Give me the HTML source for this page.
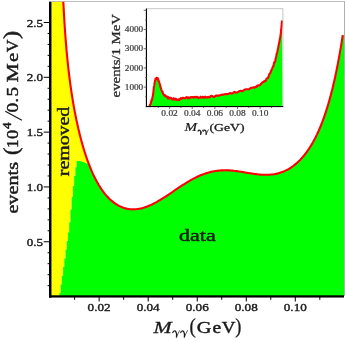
<!DOCTYPE html>
<html><head><meta charset="utf-8">
<style>
html,body{margin:0;padding:0;background:#fff;}
body{width:345px;height:341px;overflow:hidden;}
svg{display:block;will-change:transform;}
text{font-family:"Liberation Serif",serif;fill:#1a1a1a;}
.tl{font-size:11.3px;stroke:#1a1a1a;stroke-width:0.4px;}
.il{font-size:8px;fill:#3a3a3a;stroke:#3a3a3a;stroke-width:0.2px;}
.b{stroke:#1a1a1a;stroke-width:0.45px;}
</style></head><body>
<svg width="345" height="341" viewBox="0 0 345 341">
<rect width="345" height="341" fill="#fff"/>
<!-- main fills -->
<path d="M51,0 L63.10,-2.59 C63.14,-1.73 63.27,0.88 63.35,2.55 C63.43,4.21 63.52,5.83 63.60,7.41 C63.68,8.99 63.77,10.52 63.85,12.02 C63.93,13.52 64.02,14.98 64.10,16.40 C64.18,17.82 64.27,19.21 64.35,20.57 C64.43,21.92 64.52,23.24 64.60,24.54 C64.68,25.83 64.77,27.09 64.85,28.32 C64.93,29.56 65.02,30.77 65.10,31.95 C65.18,33.13 65.27,34.28 65.35,35.42 C65.43,36.55 65.52,37.65 65.60,38.74 C65.68,39.83 65.77,40.89 65.85,41.93 C65.93,42.98 66.02,44.00 66.10,45.00 C66.18,46.01 66.27,46.99 66.35,47.96 C66.43,48.92 66.52,49.87 66.60,50.80 C66.68,51.74 66.77,52.65 66.85,53.55 C66.93,54.45 67.02,55.34 67.10,56.21 C67.18,57.08 67.27,57.93 67.35,58.77 C67.43,59.62 67.52,60.44 67.60,61.26 C67.68,62.08 67.77,62.88 67.85,63.67 C67.93,64.46 68.02,65.24 68.10,66.01 C68.18,66.78 68.27,67.53 68.35,68.28 C68.43,69.02 68.52,69.76 68.60,70.48 C68.68,71.21 68.77,71.92 68.85,72.63 C68.93,73.34 69.02,74.03 69.10,74.72 C69.18,75.41 69.27,76.08 69.35,76.75 C69.43,77.42 69.52,78.09 69.60,78.74 C69.68,79.39 69.77,80.04 69.85,80.68 C69.93,81.31 70.02,81.94 70.10,82.57 C70.18,83.19 70.27,83.81 70.35,84.41 C70.43,85.02 70.52,85.63 70.60,86.22 C70.68,86.82 70.77,87.41 70.85,87.99 C70.93,88.57 71.02,89.15 71.10,89.72 C71.18,90.29 71.27,90.85 71.35,91.41 C71.43,91.97 71.52,92.52 71.60,93.07 C71.68,93.62 71.77,94.16 71.85,94.70 C71.93,95.24 72.02,95.77 72.10,96.29 C72.18,96.82 72.27,97.34 72.35,97.86 C72.43,98.38 72.52,98.89 72.60,99.40 C72.68,99.90 72.77,100.41 72.85,100.90 C72.93,101.40 73.02,101.90 73.10,102.39 C73.18,102.88 73.27,103.36 73.35,103.84 C73.43,104.32 73.52,104.80 73.60,105.28 C73.68,105.75 73.77,106.22 73.85,106.68 C73.93,107.15 74.02,107.61 74.10,108.07 C74.18,108.53 74.27,108.98 74.35,109.43 C74.43,109.88 74.52,110.33 74.60,110.77 C74.68,111.22 74.77,111.65 74.85,112.09 C74.93,112.53 75.02,112.96 75.10,113.39 C75.18,113.82 75.27,114.25 75.35,114.67 C75.43,115.10 75.52,115.52 75.60,115.93 C75.68,116.35 75.77,116.76 75.85,117.18 C75.93,117.59 76.02,117.99 76.10,118.40 C76.18,118.81 76.27,119.21 76.35,119.61 C76.43,120.01 76.52,120.40 76.60,120.80 C76.68,121.19 76.77,121.58 76.85,121.97 C76.93,122.36 77.02,122.74 77.10,123.13 C77.18,123.51 77.27,123.89 77.35,124.27 C77.43,124.65 77.52,125.02 77.60,125.40 C77.68,125.77 77.77,126.14 77.85,126.51 C77.93,126.87 78.02,127.24 78.10,127.60 C78.18,127.97 78.27,128.33 78.35,128.68 C78.43,129.04 78.52,129.40 78.60,129.75 C78.68,130.11 78.77,130.46 78.85,130.81 C78.93,131.16 79.02,131.50 79.10,131.85 C79.18,132.19 79.27,132.53 79.35,132.87 C79.43,133.22 79.52,133.55 79.60,133.89 C79.68,134.23 79.77,134.56 79.85,134.89 C79.93,135.22 80.02,135.55 80.10,135.88 C80.18,136.21 80.27,136.53 80.35,136.86 C80.43,137.18 80.52,137.50 80.60,137.82 C80.68,138.14 80.77,138.46 80.85,138.78 C80.93,139.09 81.02,139.41 81.10,139.72 C81.18,140.03 81.27,140.34 81.35,140.65 C81.43,140.96 81.52,141.26 81.60,141.57 C81.68,141.87 81.77,142.17 81.85,142.48 C81.93,142.78 82.02,143.08 82.10,143.37 C82.18,143.67 82.27,143.97 82.35,144.26 C82.43,144.55 82.52,144.85 82.60,145.14 C82.68,145.43 82.77,145.71 82.85,146.00 C82.93,146.29 83.02,146.57 83.10,146.86 C83.18,147.14 83.27,147.42 83.35,147.70 C83.43,147.98 83.52,148.26 83.60,148.54 C83.68,148.82 83.77,149.09 83.85,149.37 C83.93,149.64 84.02,149.91 84.10,150.18 C84.18,150.45 84.27,150.72 84.35,150.99 C84.43,151.26 84.52,151.52 84.60,151.79 C84.68,152.05 84.77,152.31 84.85,152.58 C84.93,152.84 85.02,153.10 85.10,153.36 C85.18,153.61 85.27,153.87 85.35,154.13 C85.43,154.38 85.52,154.64 85.60,154.89 C85.68,155.14 85.77,155.39 85.85,155.64 C85.93,155.89 86.02,156.14 86.10,156.39 C86.18,156.63 86.27,156.88 86.35,157.12 C86.43,157.37 86.52,157.61 86.60,157.85 C86.68,158.09 86.77,158.33 86.85,158.57 C86.93,158.81 87.02,159.05 87.10,159.28 C87.18,159.52 87.27,159.75 87.35,159.99 C87.43,160.22 87.52,160.45 87.60,160.68 C87.68,160.91 87.77,161.14 87.85,161.37 C87.93,161.60 88.02,161.82 88.10,162.05 C88.18,162.28 88.27,162.50 88.35,162.72 C88.43,162.95 88.52,163.17 88.60,163.39 C88.68,163.61 88.77,163.83 88.85,164.04 C88.93,164.26 89.06,164.59 89.10,164.70 L88.60,164.00 L88.60,164.00 L87.60,163.60 L85.00,163.00 L84.30,162.00 L82.00,161.90 L81.70,161.20 L77.30,161.10 L77.30,161.20 L76.60,161.20 L76.60,167.36 L75.38,167.36 L75.38,175.95 L74.15,175.95 L74.15,186.05 L72.93,186.05 L72.93,197.08 L71.70,197.08 L71.70,209.51 L70.47,209.51 L70.47,222.22 L69.25,222.22 L69.25,232.41 L68.02,232.41 L68.02,241.08 L66.80,241.08 L66.80,249.75 L65.57,249.75 L65.57,258.42 L64.34,258.42 L64.34,267.09 L63.12,267.09 L63.12,275.76 L61.89,275.76 L61.89,284.43 L60.67,284.43 L60.67,293.10 L59.44,293.10 L59.44,296.00 L51,296 Z" fill="#ffff00"/>
<path d="M59.44,296.00 L59.44,293.10 L60.67,293.10 L60.67,284.43 L61.89,284.43 L61.89,275.76 L63.12,275.76 L63.12,267.09 L64.34,267.09 L64.34,258.42 L65.57,258.42 L65.57,249.75 L66.80,249.75 L66.80,241.08 L68.02,241.08 L68.02,232.41 L69.25,232.41 L69.25,222.22 L70.47,222.22 L70.47,209.51 L71.70,209.51 L71.70,197.08 L72.93,197.08 L72.93,186.05 L74.15,186.05 L74.15,175.95 L75.38,175.95 L75.38,167.36 L76.60,167.36 L76.60,161.20 L77.30,161.20 L77.30,161.10 L81.70,161.20 L82.00,161.90 L84.30,162.00 L85.00,163.00 L87.60,163.60 L88.60,164.00 L89.10,164.70 C89.14,164.80 89.27,165.12 89.35,165.34 C89.43,165.55 89.52,165.76 89.60,165.97 C89.68,166.18 89.77,166.39 89.85,166.60 C89.93,166.81 90.02,167.02 90.10,167.22 C90.18,167.43 90.27,167.63 90.35,167.84 C90.43,168.04 90.52,168.24 90.60,168.45 C90.68,168.65 90.77,168.85 90.85,169.05 C90.93,169.25 91.02,169.44 91.10,169.64 C91.18,169.84 91.27,170.03 91.35,170.23 C91.43,170.42 91.52,170.62 91.60,170.81 C91.68,171.00 91.77,171.19 91.85,171.38 C91.93,171.57 92.02,171.76 92.10,171.95 C92.18,172.14 92.27,172.33 92.35,172.51 C92.43,172.70 92.52,172.88 92.60,173.07 C92.68,173.25 92.77,173.44 92.85,173.62 C92.93,173.80 93.02,173.98 93.10,174.16 C93.18,174.34 93.27,174.52 93.35,174.70 C93.43,174.87 93.52,175.05 93.60,175.23 C93.68,175.40 93.77,175.58 93.85,175.75 C93.93,175.93 94.02,176.10 94.10,176.27 C94.18,176.44 94.27,176.61 94.35,176.78 C94.43,176.95 94.52,177.12 94.60,177.29 C94.68,177.46 94.77,177.63 94.85,177.79 C94.93,177.96 95.02,178.13 95.10,178.29 C95.18,178.45 95.27,178.62 95.35,178.78 C95.43,178.94 95.52,179.10 95.60,179.26 C95.68,179.43 95.77,179.58 95.85,179.74 C95.93,179.90 96.02,180.06 96.10,180.22 C96.18,180.37 96.27,180.53 96.35,180.69 C96.43,180.84 96.52,181.00 96.60,181.15 C96.68,181.30 96.77,181.46 96.85,181.61 C96.93,181.76 97.02,181.91 97.10,182.06 C97.18,182.21 97.27,182.36 97.35,182.51 C97.43,182.66 97.52,182.80 97.60,182.95 C97.68,183.10 97.77,183.24 97.85,183.39 C97.93,183.53 98.02,183.68 98.10,183.82 C98.18,183.96 98.27,184.10 98.35,184.25 C98.43,184.39 98.52,184.53 98.60,184.67 C98.68,184.81 98.77,184.95 98.85,185.09 C98.93,185.22 99.02,185.36 99.10,185.50 C99.18,185.64 99.27,185.77 99.35,185.91 C99.43,186.04 99.52,186.18 99.60,186.31 C99.68,186.44 99.78,186.60 99.85,186.71 C99.92,186.81 99.72,186.53 100.00,186.94 C100.28,187.36 101.00,188.49 101.50,189.22 C102.00,189.95 102.50,190.66 103.00,191.34 C103.50,192.02 104.00,192.68 104.50,193.31 C105.00,193.94 105.50,194.55 106.00,195.14 C106.50,195.72 107.00,196.29 107.50,196.83 C108.00,197.37 108.50,197.89 109.00,198.39 C109.50,198.89 110.00,199.37 110.50,199.83 C111.00,200.29 111.50,200.73 112.00,201.15 C112.50,201.57 113.00,201.97 113.50,202.36 C114.00,202.74 114.50,203.11 115.00,203.45 C115.50,203.80 116.00,204.13 116.50,204.45 C117.00,204.76 117.50,205.06 118.00,205.34 C118.50,205.62 119.00,205.88 119.50,206.13 C120.00,206.38 120.50,206.61 121.00,206.83 C121.50,207.05 122.00,207.25 122.50,207.44 C123.00,207.62 123.50,207.80 124.00,207.96 C124.50,208.11 125.00,208.26 125.50,208.39 C126.00,208.52 126.50,208.63 127.00,208.74 C127.50,208.84 128.00,208.93 128.50,209.01 C129.00,209.08 129.50,209.15 130.00,209.20 C130.50,209.25 131.00,209.28 131.50,209.31 C132.00,209.34 132.50,209.35 133.00,209.35 C133.50,209.35 134.00,209.34 134.50,209.32 C135.00,209.30 135.50,209.26 136.00,209.22 C136.50,209.17 137.00,209.12 137.50,209.05 C138.00,208.98 138.50,208.90 139.00,208.82 C139.50,208.73 140.00,208.63 140.50,208.52 C141.00,208.41 141.50,208.29 142.00,208.16 C142.50,208.03 143.00,207.90 143.50,207.75 C144.00,207.60 144.50,207.44 145.00,207.28 C145.50,207.11 146.00,206.94 146.50,206.75 C147.00,206.57 147.50,206.38 148.00,206.18 C148.50,205.98 149.00,205.77 149.50,205.56 C150.00,205.34 150.50,205.12 151.00,204.89 C151.50,204.66 152.00,204.42 152.50,204.18 C153.00,203.93 153.50,203.68 154.00,203.43 C154.50,203.17 155.00,202.90 155.50,202.64 C156.00,202.37 156.50,202.09 157.00,201.81 C157.50,201.53 158.00,201.24 158.50,200.95 C159.00,200.66 159.50,200.37 160.00,200.07 C160.50,199.77 161.00,199.46 161.50,199.15 C162.00,198.85 162.50,198.53 163.00,198.22 C163.50,197.90 164.00,197.58 164.50,197.26 C165.00,196.94 165.50,196.61 166.00,196.28 C166.50,195.96 167.00,195.63 167.50,195.29 C168.00,194.96 168.50,194.63 169.00,194.29 C169.50,193.96 170.00,193.62 170.50,193.28 C171.00,192.94 171.50,192.61 172.00,192.27 C172.50,191.93 173.00,191.59 173.50,191.25 C174.00,190.91 174.50,190.57 175.00,190.23 C175.50,189.89 176.00,189.55 176.50,189.21 C177.00,188.87 177.50,188.53 178.00,188.20 C178.50,187.86 179.00,187.53 179.50,187.19 C180.00,186.86 180.50,186.53 181.00,186.20 C181.50,185.87 182.00,185.55 182.50,185.22 C183.00,184.90 183.50,184.58 184.00,184.26 C184.50,183.94 185.00,183.63 185.50,183.31 C186.00,183.00 186.50,182.69 187.00,182.39 C187.50,182.09 188.00,181.78 188.50,181.49 C189.00,181.19 189.50,180.90 190.00,180.61 C190.50,180.33 191.00,180.04 191.50,179.76 C192.00,179.49 192.50,179.21 193.00,178.94 C193.50,178.68 194.00,178.41 194.50,178.16 C195.00,177.90 195.50,177.65 196.00,177.40 C196.50,177.15 197.00,176.91 197.50,176.68 C198.00,176.44 198.50,176.21 199.00,175.99 C199.50,175.77 200.00,175.55 200.50,175.34 C201.00,175.13 201.50,174.93 202.00,174.73 C202.50,174.53 203.00,174.34 203.50,174.15 C204.00,173.97 204.50,173.79 205.00,173.62 C205.50,173.45 206.00,173.28 206.50,173.13 C207.00,172.97 207.50,172.82 208.00,172.67 C208.50,172.53 209.00,172.39 209.50,172.26 C210.00,172.13 210.50,172.00 211.00,171.89 C211.50,171.77 212.00,171.66 212.50,171.55 C213.00,171.45 213.50,171.35 214.00,171.26 C214.50,171.17 215.00,171.09 215.50,171.01 C216.00,170.93 216.50,170.86 217.00,170.80 C217.50,170.73 218.00,170.68 218.50,170.62 C219.00,170.57 219.50,170.53 220.00,170.49 C220.50,170.45 221.00,170.42 221.50,170.39 C222.00,170.36 222.50,170.34 223.00,170.33 C223.50,170.31 224.00,170.30 224.50,170.30 C225.00,170.30 225.50,170.30 226.00,170.31 C226.50,170.31 227.00,170.32 227.50,170.34 C228.00,170.36 228.50,170.38 229.00,170.41 C229.50,170.43 230.00,170.47 230.50,170.50 C231.00,170.54 231.50,170.58 232.00,170.62 C232.50,170.67 233.00,170.71 233.50,170.77 C234.00,170.82 234.50,170.87 235.00,170.93 C235.50,170.99 236.00,171.05 236.50,171.12 C237.00,171.18 237.50,171.25 238.00,171.32 C238.50,171.39 239.00,171.46 239.50,171.54 C240.00,171.61 240.50,171.69 241.00,171.77 C241.50,171.84 242.00,171.92 242.50,172.00 C243.00,172.08 243.50,172.17 244.00,172.25 C244.50,172.33 245.00,172.41 245.50,172.50 C246.00,172.58 246.50,172.66 247.00,172.75 C247.50,172.83 248.00,172.91 248.50,173.00 C249.00,173.08 249.50,173.16 250.00,173.24 C250.50,173.32 251.00,173.40 251.50,173.48 C252.00,173.55 252.50,173.63 253.00,173.70 C253.50,173.78 254.00,173.85 254.50,173.92 C255.00,173.99 255.50,174.05 256.00,174.11 C256.50,174.18 257.00,174.24 257.50,174.29 C258.00,174.35 258.50,174.40 259.00,174.45 C259.50,174.50 260.00,174.54 260.50,174.58 C261.00,174.62 261.50,174.66 262.00,174.69 C262.50,174.72 263.00,174.74 263.50,174.76 C264.00,174.78 264.50,174.79 265.00,174.80 C265.50,174.81 266.00,174.81 266.50,174.81 C267.00,174.80 267.50,174.79 268.00,174.77 C268.50,174.76 269.00,174.73 269.50,174.70 C270.00,174.67 270.50,174.63 271.00,174.58 C271.50,174.53 272.00,174.48 272.50,174.42 C273.00,174.35 273.50,174.28 274.00,174.20 C274.50,174.12 275.00,174.04 275.50,173.94 C276.00,173.84 276.50,173.73 277.00,173.62 C277.50,173.50 278.00,173.38 278.50,173.24 C279.00,173.11 279.50,172.96 280.00,172.80 C280.50,172.65 281.00,172.48 281.50,172.31 C282.00,172.13 282.50,171.94 283.00,171.74 C283.50,171.55 284.00,171.34 284.50,171.12 C285.00,170.89 285.50,170.66 286.00,170.42 C286.50,170.17 287.00,169.91 287.50,169.65 C288.00,169.38 288.50,169.09 289.00,168.80 C289.50,168.50 290.00,168.20 290.50,167.88 C291.00,167.55 291.50,167.22 292.00,166.87 C292.50,166.52 293.00,166.16 293.50,165.78 C294.00,165.41 294.50,165.02 295.00,164.61 C295.50,164.20 296.00,163.78 296.50,163.34 C297.00,162.91 297.50,162.45 298.00,161.98 C298.50,161.51 299.17,160.85 299.50,160.53 C299.83,160.20 299.88,160.14 300.00,160.02 C300.12,159.89 300.17,159.84 300.25,159.76 C300.33,159.67 300.42,159.58 300.50,159.50 C300.58,159.41 300.67,159.32 300.75,159.23 C300.83,159.14 300.92,159.05 301.00,158.96 C301.08,158.87 301.17,158.78 301.25,158.69 C301.33,158.60 301.42,158.51 301.50,158.42 C301.58,158.33 301.67,158.24 301.75,158.14 C301.83,158.05 301.92,157.96 302.00,157.86 C302.08,157.77 302.17,157.68 302.25,157.58 C302.33,157.49 302.42,157.39 302.50,157.30 C302.58,157.20 302.67,157.10 302.75,157.01 C302.83,156.91 302.92,156.81 303.00,156.72 C303.08,156.62 303.17,156.52 303.25,156.42 C303.33,156.32 303.42,156.22 303.50,156.12 C303.58,156.02 303.67,155.92 303.75,155.82 C303.83,155.72 303.92,155.62 304.00,155.52 C304.08,155.41 304.17,155.31 304.25,155.21 C304.33,155.10 304.42,155.00 304.50,154.90 C304.58,154.79 304.67,154.69 304.75,154.58 C304.83,154.48 304.92,154.37 305.00,154.26 C305.08,154.16 305.17,154.05 305.25,153.94 C305.33,153.83 305.42,153.73 305.50,153.62 C305.58,153.51 305.67,153.40 305.75,153.29 C305.83,153.18 305.92,153.07 306.00,152.96 C306.08,152.85 306.17,152.73 306.25,152.62 C306.33,152.51 306.42,152.40 306.50,152.28 C306.58,152.17 306.67,152.05 306.75,151.94 C306.83,151.82 306.92,151.71 307.00,151.59 C307.08,151.48 307.17,151.36 307.25,151.24 C307.33,151.13 307.42,151.01 307.50,150.89 C307.58,150.77 307.67,150.65 307.75,150.53 C307.83,150.41 307.92,150.29 308.00,150.17 C308.08,150.05 308.17,149.93 308.25,149.81 C308.33,149.69 308.42,149.56 308.50,149.44 C308.58,149.32 308.67,149.19 308.75,149.07 C308.83,148.94 308.92,148.82 309.00,148.69 C309.08,148.57 309.17,148.44 309.25,148.31 C309.33,148.18 309.42,148.06 309.50,147.93 C309.58,147.80 309.67,147.67 309.75,147.54 C309.83,147.41 309.92,147.28 310.00,147.15 C310.08,147.02 310.17,146.88 310.25,146.75 C310.33,146.62 310.42,146.49 310.50,146.35 C310.58,146.22 310.67,146.08 310.75,145.95 C310.83,145.81 310.92,145.68 311.00,145.54 C311.08,145.40 311.17,145.27 311.25,145.13 C311.33,144.99 311.42,144.85 311.50,144.71 C311.58,144.57 311.67,144.43 311.75,144.29 C311.83,144.15 311.92,144.01 312.00,143.86 C312.08,143.72 312.17,143.58 312.25,143.43 C312.33,143.29 312.42,143.14 312.50,143.00 C312.58,142.85 312.67,142.71 312.75,142.56 C312.83,142.41 312.92,142.27 313.00,142.12 C313.08,141.97 313.17,141.82 313.25,141.67 C313.33,141.52 313.42,141.37 313.50,141.22 C313.58,141.07 313.67,140.91 313.75,140.76 C313.83,140.61 313.92,140.45 314.00,140.30 C314.08,140.14 314.17,139.99 314.25,139.83 C314.33,139.67 314.42,139.52 314.50,139.36 C314.58,139.20 314.67,139.04 314.75,138.88 C314.83,138.72 314.92,138.56 315.00,138.40 C315.08,138.24 315.17,138.08 315.25,137.92 C315.33,137.75 315.42,137.59 315.50,137.42 C315.58,137.26 315.67,137.09 315.75,136.93 C315.83,136.76 315.92,136.60 316.00,136.43 C316.08,136.26 316.17,136.09 316.25,135.92 C316.33,135.75 316.42,135.58 316.50,135.41 C316.58,135.24 316.67,135.06 316.75,134.89 C316.83,134.72 316.92,134.54 317.00,134.37 C317.08,134.19 317.17,134.02 317.25,133.84 C317.33,133.66 317.42,133.49 317.50,133.31 C317.58,133.13 317.67,132.95 317.75,132.77 C317.83,132.59 317.92,132.41 318.00,132.22 C318.08,132.04 318.17,131.86 318.25,131.67 C318.33,131.49 318.42,131.30 318.50,131.12 C318.58,130.93 318.67,130.74 318.75,130.56 C318.83,130.37 318.92,130.18 319.00,129.99 C319.08,129.80 319.17,129.61 319.25,129.42 C319.33,129.22 319.42,129.03 319.50,128.84 C319.58,128.64 319.67,128.45 319.75,128.25 C319.83,128.05 319.92,127.86 320.00,127.66 C320.08,127.46 320.17,127.26 320.25,127.06 C320.33,126.86 320.42,126.66 320.50,126.46 C320.58,126.25 320.67,126.05 320.75,125.85 C320.83,125.64 320.92,125.44 321.00,125.23 C321.08,125.02 321.17,124.82 321.25,124.61 C321.33,124.40 321.42,124.19 321.50,123.98 C321.58,123.77 321.67,123.55 321.75,123.34 C321.83,123.13 321.92,122.91 322.00,122.70 C322.08,122.48 322.17,122.26 322.25,122.05 C322.33,121.83 322.42,121.61 322.50,121.39 C322.58,121.17 322.67,120.95 322.75,120.73 C322.83,120.50 322.92,120.28 323.00,120.06 C323.08,119.83 323.17,119.60 323.25,119.38 C323.33,119.15 323.42,118.92 323.50,118.69 C323.58,118.46 323.67,118.23 323.75,118.00 C323.83,117.77 323.92,117.53 324.00,117.30 C324.08,117.06 324.17,116.83 324.25,116.59 C324.33,116.35 324.42,116.12 324.50,115.88 C324.58,115.64 324.67,115.40 324.75,115.15 C324.83,114.91 324.92,114.67 325.00,114.42 C325.08,114.18 325.17,113.93 325.25,113.69 C325.33,113.44 325.42,113.19 325.50,112.94 C325.58,112.69 325.67,112.44 325.75,112.18 C325.83,111.93 325.92,111.68 326.00,111.42 C326.08,111.17 326.17,110.91 326.25,110.65 C326.33,110.39 326.42,110.13 326.50,109.87 C326.58,109.61 326.67,109.35 326.75,109.09 C326.83,108.82 326.92,108.56 327.00,108.29 C327.08,108.02 327.17,107.75 327.25,107.49 C327.33,107.22 327.42,106.94 327.50,106.67 C327.58,106.40 327.67,106.13 327.75,105.85 C327.83,105.57 327.92,105.30 328.00,105.02 C328.08,104.74 328.17,104.46 328.25,104.18 C328.33,103.90 328.42,103.61 328.50,103.33 C328.58,103.04 328.67,102.76 328.75,102.47 C328.83,102.18 328.92,101.89 329.00,101.60 C329.08,101.31 329.17,101.02 329.25,100.72 C329.33,100.43 329.42,100.13 329.50,99.84 C329.58,99.54 329.67,99.24 329.75,98.94 C329.83,98.64 329.92,98.34 330.00,98.03 C330.08,97.73 330.17,97.42 330.25,97.12 C330.33,96.81 330.42,96.50 330.50,96.19 C330.58,95.88 330.67,95.56 330.75,95.25 C330.83,94.94 330.92,94.62 331.00,94.30 C331.08,93.98 331.17,93.67 331.25,93.34 C331.33,93.02 331.42,92.70 331.50,92.37 C331.58,92.05 331.67,91.72 331.75,91.39 C331.83,91.07 331.92,90.74 332.00,90.40 C332.08,90.07 332.17,89.74 332.25,89.40 C332.33,89.07 332.42,88.73 332.50,88.39 C332.58,88.05 332.67,87.71 332.75,87.36 C332.83,87.02 332.92,86.67 333.00,86.33 C333.08,85.98 333.17,85.63 333.25,85.28 C333.33,84.93 333.42,84.58 333.50,84.22 C333.58,83.86 333.67,83.51 333.75,83.15 C333.83,82.79 333.92,82.43 334.00,82.06 C334.08,81.70 334.17,81.34 334.25,80.97 C334.33,80.60 334.42,80.23 334.50,79.86 C334.58,79.49 334.67,79.12 334.75,78.74 C334.83,78.36 334.92,77.99 335.00,77.61 C335.08,77.23 335.17,76.84 335.25,76.46 C335.33,76.08 335.42,75.69 335.50,75.30 C335.58,74.91 335.67,74.52 335.75,74.13 C335.83,73.73 335.92,73.34 336.00,72.94 C336.08,72.54 336.17,72.14 336.25,71.74 C336.33,71.34 336.42,70.93 336.50,70.53 C336.58,70.12 336.67,69.71 336.75,69.30 C336.83,68.89 336.92,68.48 337.00,68.06 C337.08,67.64 337.17,67.22 337.25,66.80 C337.33,66.38 337.42,65.96 337.50,65.53 C337.58,65.11 337.67,64.68 337.75,64.25 C337.83,63.82 337.92,63.38 338.00,62.95 C338.08,62.51 338.17,62.08 338.25,61.63 C338.33,61.19 338.42,60.75 338.50,60.31 C338.58,59.86 338.67,59.41 338.75,58.96 C338.83,58.51 338.92,58.06 339.00,57.60 C339.08,57.14 339.17,56.68 339.25,56.22 C339.33,55.76 339.42,55.30 339.50,54.83 C339.58,54.36 339.67,53.89 339.75,53.42 C339.83,52.95 339.92,52.47 340.00,52.00 C340.08,51.52 340.17,51.04 340.25,50.56 C340.33,50.07 340.42,49.59 340.50,49.10 C340.58,48.61 340.67,48.12 340.75,47.62 C340.83,47.13 340.92,46.63 341.00,46.13 C341.08,45.63 341.17,45.13 341.25,44.62 C341.33,44.11 341.42,43.60 341.50,43.09 C341.58,42.58 341.67,42.06 341.75,41.55 C341.83,41.03 341.92,40.51 342.00,39.98 C342.08,39.46 342.17,38.93 342.25,38.40 C342.33,37.87 342.42,37.34 342.50,36.80 C342.58,36.26 342.71,35.45 342.75,35.18 L344.4,35.5 L344.4,296 Z" fill="#00ff00"/>
<path d="M63.10,-2.59 C63.14,-1.73 63.27,0.88 63.35,2.55 C63.43,4.21 63.52,5.83 63.60,7.41 C63.68,8.99 63.77,10.52 63.85,12.02 C63.93,13.52 64.02,14.98 64.10,16.40 C64.18,17.82 64.27,19.21 64.35,20.57 C64.43,21.92 64.52,23.24 64.60,24.54 C64.68,25.83 64.77,27.09 64.85,28.32 C64.93,29.56 65.02,30.77 65.10,31.95 C65.18,33.13 65.27,34.28 65.35,35.42 C65.43,36.55 65.52,37.65 65.60,38.74 C65.68,39.83 65.77,40.89 65.85,41.93 C65.93,42.98 66.02,44.00 66.10,45.00 C66.18,46.01 66.27,46.99 66.35,47.96 C66.43,48.92 66.52,49.87 66.60,50.80 C66.68,51.74 66.77,52.65 66.85,53.55 C66.93,54.45 67.02,55.34 67.10,56.21 C67.18,57.08 67.27,57.93 67.35,58.77 C67.43,59.62 67.52,60.44 67.60,61.26 C67.68,62.08 67.77,62.88 67.85,63.67 C67.93,64.46 68.02,65.24 68.10,66.01 C68.18,66.78 68.27,67.53 68.35,68.28 C68.43,69.02 68.52,69.76 68.60,70.48 C68.68,71.21 68.77,71.92 68.85,72.63 C68.93,73.34 69.02,74.03 69.10,74.72 C69.18,75.41 69.27,76.08 69.35,76.75 C69.43,77.42 69.52,78.09 69.60,78.74 C69.68,79.39 69.77,80.04 69.85,80.68 C69.93,81.31 70.02,81.94 70.10,82.57 C70.18,83.19 70.27,83.81 70.35,84.41 C70.43,85.02 70.52,85.63 70.60,86.22 C70.68,86.82 70.77,87.41 70.85,87.99 C70.93,88.57 71.02,89.15 71.10,89.72 C71.18,90.29 71.27,90.85 71.35,91.41 C71.43,91.97 71.52,92.52 71.60,93.07 C71.68,93.62 71.77,94.16 71.85,94.70 C71.93,95.24 72.02,95.77 72.10,96.29 C72.18,96.82 72.27,97.34 72.35,97.86 C72.43,98.38 72.52,98.89 72.60,99.40 C72.68,99.90 72.77,100.41 72.85,100.90 C72.93,101.40 73.02,101.90 73.10,102.39 C73.18,102.88 73.27,103.36 73.35,103.84 C73.43,104.32 73.52,104.80 73.60,105.28 C73.68,105.75 73.77,106.22 73.85,106.68 C73.93,107.15 74.02,107.61 74.10,108.07 C74.18,108.53 74.27,108.98 74.35,109.43 C74.43,109.88 74.52,110.33 74.60,110.77 C74.68,111.22 74.77,111.65 74.85,112.09 C74.93,112.53 75.02,112.96 75.10,113.39 C75.18,113.82 75.27,114.25 75.35,114.67 C75.43,115.10 75.52,115.52 75.60,115.93 C75.68,116.35 75.77,116.76 75.85,117.18 C75.93,117.59 76.02,117.99 76.10,118.40 C76.18,118.81 76.27,119.21 76.35,119.61 C76.43,120.01 76.52,120.40 76.60,120.80 C76.68,121.19 76.77,121.58 76.85,121.97 C76.93,122.36 77.02,122.74 77.10,123.13 C77.18,123.51 77.27,123.89 77.35,124.27 C77.43,124.65 77.52,125.02 77.60,125.40 C77.68,125.77 77.77,126.14 77.85,126.51 C77.93,126.87 78.02,127.24 78.10,127.60 C78.18,127.97 78.27,128.33 78.35,128.68 C78.43,129.04 78.52,129.40 78.60,129.75 C78.68,130.11 78.77,130.46 78.85,130.81 C78.93,131.16 79.02,131.50 79.10,131.85 C79.18,132.19 79.27,132.53 79.35,132.87 C79.43,133.22 79.52,133.55 79.60,133.89 C79.68,134.23 79.77,134.56 79.85,134.89 C79.93,135.22 80.02,135.55 80.10,135.88 C80.18,136.21 80.27,136.53 80.35,136.86 C80.43,137.18 80.52,137.50 80.60,137.82 C80.68,138.14 80.77,138.46 80.85,138.78 C80.93,139.09 81.02,139.41 81.10,139.72 C81.18,140.03 81.27,140.34 81.35,140.65 C81.43,140.96 81.52,141.26 81.60,141.57 C81.68,141.87 81.77,142.17 81.85,142.48 C81.93,142.78 82.02,143.08 82.10,143.37 C82.18,143.67 82.27,143.97 82.35,144.26 C82.43,144.55 82.52,144.85 82.60,145.14 C82.68,145.43 82.77,145.71 82.85,146.00 C82.93,146.29 83.02,146.57 83.10,146.86 C83.18,147.14 83.27,147.42 83.35,147.70 C83.43,147.98 83.52,148.26 83.60,148.54 C83.68,148.82 83.77,149.09 83.85,149.37 C83.93,149.64 84.02,149.91 84.10,150.18 C84.18,150.45 84.27,150.72 84.35,150.99 C84.43,151.26 84.52,151.52 84.60,151.79 C84.68,152.05 84.77,152.31 84.85,152.58 C84.93,152.84 85.02,153.10 85.10,153.36 C85.18,153.61 85.27,153.87 85.35,154.13 C85.43,154.38 85.52,154.64 85.60,154.89 C85.68,155.14 85.77,155.39 85.85,155.64 C85.93,155.89 86.02,156.14 86.10,156.39 C86.18,156.63 86.27,156.88 86.35,157.12 C86.43,157.37 86.52,157.61 86.60,157.85 C86.68,158.09 86.77,158.33 86.85,158.57 C86.93,158.81 87.02,159.05 87.10,159.28 C87.18,159.52 87.27,159.75 87.35,159.99 C87.43,160.22 87.52,160.45 87.60,160.68 C87.68,160.91 87.77,161.14 87.85,161.37 C87.93,161.60 88.02,161.82 88.10,162.05 C88.18,162.28 88.27,162.50 88.35,162.72 C88.43,162.95 88.52,163.17 88.60,163.39 C88.68,163.61 88.77,163.83 88.85,164.04 C88.93,164.26 89.02,164.48 89.10,164.70 C89.18,164.91 89.27,165.12 89.35,165.34 C89.43,165.55 89.52,165.76 89.60,165.97 C89.68,166.18 89.77,166.39 89.85,166.60 C89.93,166.81 90.02,167.02 90.10,167.22 C90.18,167.43 90.27,167.63 90.35,167.84 C90.43,168.04 90.52,168.24 90.60,168.45 C90.68,168.65 90.77,168.85 90.85,169.05 C90.93,169.25 91.02,169.44 91.10,169.64 C91.18,169.84 91.27,170.03 91.35,170.23 C91.43,170.42 91.52,170.62 91.60,170.81 C91.68,171.00 91.77,171.19 91.85,171.38 C91.93,171.57 92.02,171.76 92.10,171.95 C92.18,172.14 92.27,172.33 92.35,172.51 C92.43,172.70 92.52,172.88 92.60,173.07 C92.68,173.25 92.77,173.44 92.85,173.62 C92.93,173.80 93.02,173.98 93.10,174.16 C93.18,174.34 93.27,174.52 93.35,174.70 C93.43,174.87 93.52,175.05 93.60,175.23 C93.68,175.40 93.77,175.58 93.85,175.75 C93.93,175.93 94.02,176.10 94.10,176.27 C94.18,176.44 94.27,176.61 94.35,176.78 C94.43,176.95 94.52,177.12 94.60,177.29 C94.68,177.46 94.77,177.63 94.85,177.79 C94.93,177.96 95.02,178.13 95.10,178.29 C95.18,178.45 95.27,178.62 95.35,178.78 C95.43,178.94 95.52,179.10 95.60,179.26 C95.68,179.43 95.77,179.58 95.85,179.74 C95.93,179.90 96.02,180.06 96.10,180.22 C96.18,180.37 96.27,180.53 96.35,180.69 C96.43,180.84 96.52,181.00 96.60,181.15 C96.68,181.30 96.77,181.46 96.85,181.61 C96.93,181.76 97.02,181.91 97.10,182.06 C97.18,182.21 97.27,182.36 97.35,182.51 C97.43,182.66 97.52,182.80 97.60,182.95 C97.68,183.10 97.77,183.24 97.85,183.39 C97.93,183.53 98.02,183.68 98.10,183.82 C98.18,183.96 98.27,184.10 98.35,184.25 C98.43,184.39 98.52,184.53 98.60,184.67 C98.68,184.81 98.77,184.95 98.85,185.09 C98.93,185.22 99.02,185.36 99.10,185.50 C99.18,185.64 99.27,185.77 99.35,185.91 C99.43,186.04 99.52,186.18 99.60,186.31 C99.68,186.44 99.78,186.60 99.85,186.71 C99.92,186.81 99.72,186.53 100.00,186.94 C100.28,187.36 101.00,188.49 101.50,189.22 C102.00,189.95 102.50,190.66 103.00,191.34 C103.50,192.02 104.00,192.68 104.50,193.31 C105.00,193.94 105.50,194.55 106.00,195.14 C106.50,195.72 107.00,196.29 107.50,196.83 C108.00,197.37 108.50,197.89 109.00,198.39 C109.50,198.89 110.00,199.37 110.50,199.83 C111.00,200.29 111.50,200.73 112.00,201.15 C112.50,201.57 113.00,201.97 113.50,202.36 C114.00,202.74 114.50,203.11 115.00,203.45 C115.50,203.80 116.00,204.13 116.50,204.45 C117.00,204.76 117.50,205.06 118.00,205.34 C118.50,205.62 119.00,205.88 119.50,206.13 C120.00,206.38 120.50,206.61 121.00,206.83 C121.50,207.05 122.00,207.25 122.50,207.44 C123.00,207.62 123.50,207.80 124.00,207.96 C124.50,208.11 125.00,208.26 125.50,208.39 C126.00,208.52 126.50,208.63 127.00,208.74 C127.50,208.84 128.00,208.93 128.50,209.01 C129.00,209.08 129.50,209.15 130.00,209.20 C130.50,209.25 131.00,209.28 131.50,209.31 C132.00,209.34 132.50,209.35 133.00,209.35 C133.50,209.35 134.00,209.34 134.50,209.32 C135.00,209.30 135.50,209.26 136.00,209.22 C136.50,209.17 137.00,209.12 137.50,209.05 C138.00,208.98 138.50,208.90 139.00,208.82 C139.50,208.73 140.00,208.63 140.50,208.52 C141.00,208.41 141.50,208.29 142.00,208.16 C142.50,208.03 143.00,207.90 143.50,207.75 C144.00,207.60 144.50,207.44 145.00,207.28 C145.50,207.11 146.00,206.94 146.50,206.75 C147.00,206.57 147.50,206.38 148.00,206.18 C148.50,205.98 149.00,205.77 149.50,205.56 C150.00,205.34 150.50,205.12 151.00,204.89 C151.50,204.66 152.00,204.42 152.50,204.18 C153.00,203.93 153.50,203.68 154.00,203.43 C154.50,203.17 155.00,202.90 155.50,202.64 C156.00,202.37 156.50,202.09 157.00,201.81 C157.50,201.53 158.00,201.24 158.50,200.95 C159.00,200.66 159.50,200.37 160.00,200.07 C160.50,199.77 161.00,199.46 161.50,199.15 C162.00,198.85 162.50,198.53 163.00,198.22 C163.50,197.90 164.00,197.58 164.50,197.26 C165.00,196.94 165.50,196.61 166.00,196.28 C166.50,195.96 167.00,195.63 167.50,195.29 C168.00,194.96 168.50,194.63 169.00,194.29 C169.50,193.96 170.00,193.62 170.50,193.28 C171.00,192.94 171.50,192.61 172.00,192.27 C172.50,191.93 173.00,191.59 173.50,191.25 C174.00,190.91 174.50,190.57 175.00,190.23 C175.50,189.89 176.00,189.55 176.50,189.21 C177.00,188.87 177.50,188.53 178.00,188.20 C178.50,187.86 179.00,187.53 179.50,187.19 C180.00,186.86 180.50,186.53 181.00,186.20 C181.50,185.87 182.00,185.55 182.50,185.22 C183.00,184.90 183.50,184.58 184.00,184.26 C184.50,183.94 185.00,183.63 185.50,183.31 C186.00,183.00 186.50,182.69 187.00,182.39 C187.50,182.09 188.00,181.78 188.50,181.49 C189.00,181.19 189.50,180.90 190.00,180.61 C190.50,180.33 191.00,180.04 191.50,179.76 C192.00,179.49 192.50,179.21 193.00,178.94 C193.50,178.68 194.00,178.41 194.50,178.16 C195.00,177.90 195.50,177.65 196.00,177.40 C196.50,177.15 197.00,176.91 197.50,176.68 C198.00,176.44 198.50,176.21 199.00,175.99 C199.50,175.77 200.00,175.55 200.50,175.34 C201.00,175.13 201.50,174.93 202.00,174.73 C202.50,174.53 203.00,174.34 203.50,174.15 C204.00,173.97 204.50,173.79 205.00,173.62 C205.50,173.45 206.00,173.28 206.50,173.13 C207.00,172.97 207.50,172.82 208.00,172.67 C208.50,172.53 209.00,172.39 209.50,172.26 C210.00,172.13 210.50,172.00 211.00,171.89 C211.50,171.77 212.00,171.66 212.50,171.55 C213.00,171.45 213.50,171.35 214.00,171.26 C214.50,171.17 215.00,171.09 215.50,171.01 C216.00,170.93 216.50,170.86 217.00,170.80 C217.50,170.73 218.00,170.68 218.50,170.62 C219.00,170.57 219.50,170.53 220.00,170.49 C220.50,170.45 221.00,170.42 221.50,170.39 C222.00,170.36 222.50,170.34 223.00,170.33 C223.50,170.31 224.00,170.30 224.50,170.30 C225.00,170.30 225.50,170.30 226.00,170.31 C226.50,170.31 227.00,170.32 227.50,170.34 C228.00,170.36 228.50,170.38 229.00,170.41 C229.50,170.43 230.00,170.47 230.50,170.50 C231.00,170.54 231.50,170.58 232.00,170.62 C232.50,170.67 233.00,170.71 233.50,170.77 C234.00,170.82 234.50,170.87 235.00,170.93 C235.50,170.99 236.00,171.05 236.50,171.12 C237.00,171.18 237.50,171.25 238.00,171.32 C238.50,171.39 239.00,171.46 239.50,171.54 C240.00,171.61 240.50,171.69 241.00,171.77 C241.50,171.84 242.00,171.92 242.50,172.00 C243.00,172.08 243.50,172.17 244.00,172.25 C244.50,172.33 245.00,172.41 245.50,172.50 C246.00,172.58 246.50,172.66 247.00,172.75 C247.50,172.83 248.00,172.91 248.50,173.00 C249.00,173.08 249.50,173.16 250.00,173.24 C250.50,173.32 251.00,173.40 251.50,173.48 C252.00,173.55 252.50,173.63 253.00,173.70 C253.50,173.78 254.00,173.85 254.50,173.92 C255.00,173.99 255.50,174.05 256.00,174.11 C256.50,174.18 257.00,174.24 257.50,174.29 C258.00,174.35 258.50,174.40 259.00,174.45 C259.50,174.50 260.00,174.54 260.50,174.58 C261.00,174.62 261.50,174.66 262.00,174.69 C262.50,174.72 263.00,174.74 263.50,174.76 C264.00,174.78 264.50,174.79 265.00,174.80 C265.50,174.81 266.00,174.81 266.50,174.81 C267.00,174.80 267.50,174.79 268.00,174.77 C268.50,174.76 269.00,174.73 269.50,174.70 C270.00,174.67 270.50,174.63 271.00,174.58 C271.50,174.53 272.00,174.48 272.50,174.42 C273.00,174.35 273.50,174.28 274.00,174.20 C274.50,174.12 275.00,174.04 275.50,173.94 C276.00,173.84 276.50,173.73 277.00,173.62 C277.50,173.50 278.00,173.38 278.50,173.24 C279.00,173.11 279.50,172.96 280.00,172.80 C280.50,172.65 281.00,172.48 281.50,172.31 C282.00,172.13 282.50,171.94 283.00,171.74 C283.50,171.55 284.00,171.34 284.50,171.12 C285.00,170.89 285.50,170.66 286.00,170.42 C286.50,170.17 287.00,169.91 287.50,169.65 C288.00,169.38 288.50,169.09 289.00,168.80 C289.50,168.50 290.00,168.20 290.50,167.88 C291.00,167.55 291.50,167.22 292.00,166.87 C292.50,166.52 293.00,166.16 293.50,165.78 C294.00,165.41 294.50,165.02 295.00,164.61 C295.50,164.20 296.00,163.78 296.50,163.34 C297.00,162.91 297.50,162.45 298.00,161.98 C298.50,161.51 299.17,160.85 299.50,160.53 C299.83,160.20 299.88,160.14 300.00,160.02 C300.12,159.89 300.17,159.84 300.25,159.76 C300.33,159.67 300.42,159.58 300.50,159.50 C300.58,159.41 300.67,159.32 300.75,159.23 C300.83,159.14 300.92,159.05 301.00,158.96 C301.08,158.87 301.17,158.78 301.25,158.69 C301.33,158.60 301.42,158.51 301.50,158.42 C301.58,158.33 301.67,158.24 301.75,158.14 C301.83,158.05 301.92,157.96 302.00,157.86 C302.08,157.77 302.17,157.68 302.25,157.58 C302.33,157.49 302.42,157.39 302.50,157.30 C302.58,157.20 302.67,157.10 302.75,157.01 C302.83,156.91 302.92,156.81 303.00,156.72 C303.08,156.62 303.17,156.52 303.25,156.42 C303.33,156.32 303.42,156.22 303.50,156.12 C303.58,156.02 303.67,155.92 303.75,155.82 C303.83,155.72 303.92,155.62 304.00,155.52 C304.08,155.41 304.17,155.31 304.25,155.21 C304.33,155.10 304.42,155.00 304.50,154.90 C304.58,154.79 304.67,154.69 304.75,154.58 C304.83,154.48 304.92,154.37 305.00,154.26 C305.08,154.16 305.17,154.05 305.25,153.94 C305.33,153.83 305.42,153.73 305.50,153.62 C305.58,153.51 305.67,153.40 305.75,153.29 C305.83,153.18 305.92,153.07 306.00,152.96 C306.08,152.85 306.17,152.73 306.25,152.62 C306.33,152.51 306.42,152.40 306.50,152.28 C306.58,152.17 306.67,152.05 306.75,151.94 C306.83,151.82 306.92,151.71 307.00,151.59 C307.08,151.48 307.17,151.36 307.25,151.24 C307.33,151.13 307.42,151.01 307.50,150.89 C307.58,150.77 307.67,150.65 307.75,150.53 C307.83,150.41 307.92,150.29 308.00,150.17 C308.08,150.05 308.17,149.93 308.25,149.81 C308.33,149.69 308.42,149.56 308.50,149.44 C308.58,149.32 308.67,149.19 308.75,149.07 C308.83,148.94 308.92,148.82 309.00,148.69 C309.08,148.57 309.17,148.44 309.25,148.31 C309.33,148.18 309.42,148.06 309.50,147.93 C309.58,147.80 309.67,147.67 309.75,147.54 C309.83,147.41 309.92,147.28 310.00,147.15 C310.08,147.02 310.17,146.88 310.25,146.75 C310.33,146.62 310.42,146.49 310.50,146.35 C310.58,146.22 310.67,146.08 310.75,145.95 C310.83,145.81 310.92,145.68 311.00,145.54 C311.08,145.40 311.17,145.27 311.25,145.13 C311.33,144.99 311.42,144.85 311.50,144.71 C311.58,144.57 311.67,144.43 311.75,144.29 C311.83,144.15 311.92,144.01 312.00,143.86 C312.08,143.72 312.17,143.58 312.25,143.43 C312.33,143.29 312.42,143.14 312.50,143.00 C312.58,142.85 312.67,142.71 312.75,142.56 C312.83,142.41 312.92,142.27 313.00,142.12 C313.08,141.97 313.17,141.82 313.25,141.67 C313.33,141.52 313.42,141.37 313.50,141.22 C313.58,141.07 313.67,140.91 313.75,140.76 C313.83,140.61 313.92,140.45 314.00,140.30 C314.08,140.14 314.17,139.99 314.25,139.83 C314.33,139.67 314.42,139.52 314.50,139.36 C314.58,139.20 314.67,139.04 314.75,138.88 C314.83,138.72 314.92,138.56 315.00,138.40 C315.08,138.24 315.17,138.08 315.25,137.92 C315.33,137.75 315.42,137.59 315.50,137.42 C315.58,137.26 315.67,137.09 315.75,136.93 C315.83,136.76 315.92,136.60 316.00,136.43 C316.08,136.26 316.17,136.09 316.25,135.92 C316.33,135.75 316.42,135.58 316.50,135.41 C316.58,135.24 316.67,135.06 316.75,134.89 C316.83,134.72 316.92,134.54 317.00,134.37 C317.08,134.19 317.17,134.02 317.25,133.84 C317.33,133.66 317.42,133.49 317.50,133.31 C317.58,133.13 317.67,132.95 317.75,132.77 C317.83,132.59 317.92,132.41 318.00,132.22 C318.08,132.04 318.17,131.86 318.25,131.67 C318.33,131.49 318.42,131.30 318.50,131.12 C318.58,130.93 318.67,130.74 318.75,130.56 C318.83,130.37 318.92,130.18 319.00,129.99 C319.08,129.80 319.17,129.61 319.25,129.42 C319.33,129.22 319.42,129.03 319.50,128.84 C319.58,128.64 319.67,128.45 319.75,128.25 C319.83,128.05 319.92,127.86 320.00,127.66 C320.08,127.46 320.17,127.26 320.25,127.06 C320.33,126.86 320.42,126.66 320.50,126.46 C320.58,126.25 320.67,126.05 320.75,125.85 C320.83,125.64 320.92,125.44 321.00,125.23 C321.08,125.02 321.17,124.82 321.25,124.61 C321.33,124.40 321.42,124.19 321.50,123.98 C321.58,123.77 321.67,123.55 321.75,123.34 C321.83,123.13 321.92,122.91 322.00,122.70 C322.08,122.48 322.17,122.26 322.25,122.05 C322.33,121.83 322.42,121.61 322.50,121.39 C322.58,121.17 322.67,120.95 322.75,120.73 C322.83,120.50 322.92,120.28 323.00,120.06 C323.08,119.83 323.17,119.60 323.25,119.38 C323.33,119.15 323.42,118.92 323.50,118.69 C323.58,118.46 323.67,118.23 323.75,118.00 C323.83,117.77 323.92,117.53 324.00,117.30 C324.08,117.06 324.17,116.83 324.25,116.59 C324.33,116.35 324.42,116.12 324.50,115.88 C324.58,115.64 324.67,115.40 324.75,115.15 C324.83,114.91 324.92,114.67 325.00,114.42 C325.08,114.18 325.17,113.93 325.25,113.69 C325.33,113.44 325.42,113.19 325.50,112.94 C325.58,112.69 325.67,112.44 325.75,112.18 C325.83,111.93 325.92,111.68 326.00,111.42 C326.08,111.17 326.17,110.91 326.25,110.65 C326.33,110.39 326.42,110.13 326.50,109.87 C326.58,109.61 326.67,109.35 326.75,109.09 C326.83,108.82 326.92,108.56 327.00,108.29 C327.08,108.02 327.17,107.75 327.25,107.49 C327.33,107.22 327.42,106.94 327.50,106.67 C327.58,106.40 327.67,106.13 327.75,105.85 C327.83,105.57 327.92,105.30 328.00,105.02 C328.08,104.74 328.17,104.46 328.25,104.18 C328.33,103.90 328.42,103.61 328.50,103.33 C328.58,103.04 328.67,102.76 328.75,102.47 C328.83,102.18 328.92,101.89 329.00,101.60 C329.08,101.31 329.17,101.02 329.25,100.72 C329.33,100.43 329.42,100.13 329.50,99.84 C329.58,99.54 329.67,99.24 329.75,98.94 C329.83,98.64 329.92,98.34 330.00,98.03 C330.08,97.73 330.17,97.42 330.25,97.12 C330.33,96.81 330.42,96.50 330.50,96.19 C330.58,95.88 330.67,95.56 330.75,95.25 C330.83,94.94 330.92,94.62 331.00,94.30 C331.08,93.98 331.17,93.67 331.25,93.34 C331.33,93.02 331.42,92.70 331.50,92.37 C331.58,92.05 331.67,91.72 331.75,91.39 C331.83,91.07 331.92,90.74 332.00,90.40 C332.08,90.07 332.17,89.74 332.25,89.40 C332.33,89.07 332.42,88.73 332.50,88.39 C332.58,88.05 332.67,87.71 332.75,87.36 C332.83,87.02 332.92,86.67 333.00,86.33 C333.08,85.98 333.17,85.63 333.25,85.28 C333.33,84.93 333.42,84.58 333.50,84.22 C333.58,83.86 333.67,83.51 333.75,83.15 C333.83,82.79 333.92,82.43 334.00,82.06 C334.08,81.70 334.17,81.34 334.25,80.97 C334.33,80.60 334.42,80.23 334.50,79.86 C334.58,79.49 334.67,79.12 334.75,78.74 C334.83,78.36 334.92,77.99 335.00,77.61 C335.08,77.23 335.17,76.84 335.25,76.46 C335.33,76.08 335.42,75.69 335.50,75.30 C335.58,74.91 335.67,74.52 335.75,74.13 C335.83,73.73 335.92,73.34 336.00,72.94 C336.08,72.54 336.17,72.14 336.25,71.74 C336.33,71.34 336.42,70.93 336.50,70.53 C336.58,70.12 336.67,69.71 336.75,69.30 C336.83,68.89 336.92,68.48 337.00,68.06 C337.08,67.64 337.17,67.22 337.25,66.80 C337.33,66.38 337.42,65.96 337.50,65.53 C337.58,65.11 337.67,64.68 337.75,64.25 C337.83,63.82 337.92,63.38 338.00,62.95 C338.08,62.51 338.17,62.08 338.25,61.63 C338.33,61.19 338.42,60.75 338.50,60.31 C338.58,59.86 338.67,59.41 338.75,58.96 C338.83,58.51 338.92,58.06 339.00,57.60 C339.08,57.14 339.17,56.68 339.25,56.22 C339.33,55.76 339.42,55.30 339.50,54.83 C339.58,54.36 339.67,53.89 339.75,53.42 C339.83,52.95 339.92,52.47 340.00,52.00 C340.08,51.52 340.17,51.04 340.25,50.56 C340.33,50.07 340.42,49.59 340.50,49.10 C340.58,48.61 340.67,48.12 340.75,47.62 C340.83,47.13 340.92,46.63 341.00,46.13 C341.08,45.63 341.17,45.13 341.25,44.62 C341.33,44.11 341.42,43.60 341.50,43.09 C341.58,42.58 341.67,42.06 341.75,41.55 C341.83,41.03 341.92,40.51 342.00,39.98 C342.08,39.46 342.17,38.93 342.25,38.40 C342.33,37.87 342.42,37.34 342.50,36.80 C342.58,36.26 342.71,35.45 342.75,35.18" fill="none" stroke="#ff0000" stroke-width="2.1" stroke-linejoin="round"/>
<!-- frame -->

<line x1="344.5" y1="1" x2="344.5" y2="296" stroke="#b0b0b0" stroke-width="1"/>
<!-- axes -->
<rect x="49" y="0" width="2.45" height="297.55" fill="#000"/>
<rect x="49" y="295.3" width="295" height="2.25" fill="#000"/>
<rect x="0" y="0" width="345" height="1.3" fill="#fff"/>
<line x1="49" y1="1.5" x2="345" y2="1.5" stroke="#b0b0b0" stroke-width="0.8"/>
<g stroke="#000" stroke-width="1">
<line x1="74.62" y1="296" x2="74.62" y2="299.8"/>
<line x1="99.14" y1="296" x2="99.14" y2="301.5"/>
<line x1="123.66" y1="296" x2="123.66" y2="299.8"/>
<line x1="148.18" y1="296" x2="148.18" y2="301.5"/>
<line x1="172.70" y1="296" x2="172.70" y2="299.8"/>
<line x1="197.22" y1="296" x2="197.22" y2="301.5"/>
<line x1="221.74" y1="296" x2="221.74" y2="299.8"/>
<line x1="246.26" y1="296" x2="246.26" y2="301.5"/>
<line x1="270.78" y1="296" x2="270.78" y2="299.8"/>
<line x1="295.30" y1="296" x2="295.30" y2="301.5"/>
<line x1="319.82" y1="296" x2="319.82" y2="299.8"/>
<line x1="47.6" y1="285.64" x2="51" y2="285.64"/>
<line x1="47.6" y1="274.67" x2="51" y2="274.67"/>
<line x1="47.6" y1="263.71" x2="51" y2="263.71"/>
<line x1="47.6" y1="252.74" x2="51" y2="252.74"/>
<line x1="43.7" y1="241.78" x2="51" y2="241.78"/>
<line x1="47.6" y1="230.81" x2="51" y2="230.81"/>
<line x1="47.6" y1="219.85" x2="51" y2="219.85"/>
<line x1="47.6" y1="208.88" x2="51" y2="208.88"/>
<line x1="47.6" y1="197.92" x2="51" y2="197.92"/>
<line x1="43.7" y1="186.95" x2="51" y2="186.95"/>
<line x1="47.6" y1="175.99" x2="51" y2="175.99"/>
<line x1="47.6" y1="165.02" x2="51" y2="165.02"/>
<line x1="47.6" y1="154.06" x2="51" y2="154.06"/>
<line x1="47.6" y1="143.09" x2="51" y2="143.09"/>
<line x1="43.7" y1="132.13" x2="51" y2="132.13"/>
<line x1="47.6" y1="121.16" x2="51" y2="121.16"/>
<line x1="47.6" y1="110.20" x2="51" y2="110.20"/>
<line x1="47.6" y1="99.23" x2="51" y2="99.23"/>
<line x1="47.6" y1="88.27" x2="51" y2="88.27"/>
<line x1="43.7" y1="77.30" x2="51" y2="77.30"/>
<line x1="47.6" y1="66.34" x2="51" y2="66.34"/>
<line x1="47.6" y1="55.37" x2="51" y2="55.37"/>
<line x1="47.6" y1="44.41" x2="51" y2="44.41"/>
<line x1="47.6" y1="33.44" x2="51" y2="33.44"/>
<line x1="43.7" y1="22.48" x2="51" y2="22.48"/>
</g>
<text x="99.14" y="310.8" text-anchor="middle" textLength="23" lengthAdjust="spacingAndGlyphs" class="tl">0.02</text>
<text x="148.18" y="310.8" text-anchor="middle" textLength="23" lengthAdjust="spacingAndGlyphs" class="tl">0.04</text>
<text x="197.22" y="310.8" text-anchor="middle" textLength="23" lengthAdjust="spacingAndGlyphs" class="tl">0.06</text>
<text x="246.26" y="310.8" text-anchor="middle" textLength="23" lengthAdjust="spacingAndGlyphs" class="tl">0.08</text>
<text x="295.30" y="310.8" text-anchor="middle" textLength="23" lengthAdjust="spacingAndGlyphs" class="tl">0.10</text>
<text x="43" y="245.88" text-anchor="end" textLength="16.3" lengthAdjust="spacingAndGlyphs" class="tl">0.5</text>
<text x="43" y="191.05" text-anchor="end" textLength="16.3" lengthAdjust="spacingAndGlyphs" class="tl">1.0</text>
<text x="43" y="136.23" text-anchor="end" textLength="16.3" lengthAdjust="spacingAndGlyphs" class="tl">1.5</text>
<text x="43" y="81.40" text-anchor="end" textLength="16.3" lengthAdjust="spacingAndGlyphs" class="tl">2.0</text>
<text x="43" y="26.58" text-anchor="end" textLength="16.3" lengthAdjust="spacingAndGlyphs" class="tl">2.5</text>
<!-- inset -->
<rect x="147" y="8.5" width="136" height="98" fill="#fff"/>
<path d="M149.50,106.50 L149.73,105.94 L150.05,104.84 L150.43,104.27 L150.84,103.22 L151.27,101.09 L151.69,99.75 L152.08,99.87 L152.40,97.59 L152.67,96.17 L152.92,95.93 L153.14,93.41 L153.35,92.37 L153.54,90.12 L153.73,88.82 L153.91,86.56 L154.10,86.13 L154.28,85.45 L154.46,83.89 L154.62,83.39 L154.78,82.50 L154.94,80.77 L155.09,81.32 L155.25,80.47 L155.40,79.46 L155.55,78.55 L155.70,79.58 L155.84,78.61 L155.97,78.78 L156.12,78.87 L156.27,78.46 L156.43,78.74 L156.60,77.82 L156.79,78.53 L156.98,78.00 L157.19,78.96 L157.40,79.05 L157.62,77.97 L157.84,78.34 L158.07,78.86 L158.30,80.59 L158.53,80.24 L158.76,81.22 L159.00,81.40 L159.24,82.54 L159.49,83.17 L159.75,83.96 L160.02,85.21 L160.30,86.04 L160.59,87.43 L160.89,87.95 L161.20,89.29 L161.51,90.09 L161.84,91.23 L162.18,91.56 L162.53,91.50 L162.90,93.41 L163.28,94.23 L163.66,94.72 L164.05,94.69 L164.45,95.43 L164.87,95.02 L165.32,96.50 L165.79,96.45 L166.30,96.33 L166.84,96.30 L167.42,97.94 L168.02,98.44 L168.64,97.14 L169.29,98.57 L169.95,98.10 L170.62,97.84 L171.30,98.25 L171.99,99.22 L172.71,99.55 L173.44,98.28 L174.18,99.38 L174.93,98.51 L175.69,99.72 L176.45,99.11 L177.20,100.05 L177.95,100.18 L178.69,99.29 L179.44,100.00 L180.19,98.69 L180.95,98.13 L181.71,98.86 L182.50,97.74 L183.30,97.89 L184.15,98.12 L185.05,98.33 L185.98,97.42 L186.91,97.09 L187.83,98.36 L188.70,97.30 L189.49,98.28 L190.20,98.07 L190.78,97.10 L191.25,97.15 L191.64,97.16 L191.99,97.29 L192.33,97.15 L192.71,97.04 L193.15,97.11 L193.70,97.65 L194.36,96.94 L195.09,96.87 L195.87,97.45 L196.69,96.73 L197.54,96.94 L198.38,98.19 L199.21,97.49 L200.00,97.58 L200.76,96.70 L201.50,97.40 L202.23,97.69 L202.96,96.73 L203.69,97.73 L204.44,97.73 L205.20,96.71 L206.00,97.62 L206.79,97.27 L207.54,97.54 L208.28,96.89 L209.06,97.38 L209.88,97.30 L210.80,95.94 L211.83,95.84 L213.00,96.70 L214.35,96.98 L215.85,95.54 L217.47,95.65 L219.18,95.61 L220.93,94.87 L222.69,94.66 L224.43,94.28 L226.10,94.08 L227.73,94.16 L229.35,93.35 L230.98,93.16 L232.60,93.51 L234.22,91.90 L235.85,92.47 L237.47,92.38 L239.10,91.28 L240.77,90.72 L242.49,91.28 L244.24,89.86 L245.97,89.31 L247.67,89.26 L249.30,89.24 L250.82,87.77 L252.20,87.70 L253.44,87.30 L254.55,87.75 L255.57,86.69 L256.51,87.01 L257.40,85.44 L258.27,85.30 L259.12,85.37 L260.00,85.25 L260.89,83.95 L261.78,82.97 L262.65,82.17 L263.49,82.21 L264.31,80.95 L265.09,81.29 L265.82,80.62 L266.50,78.76 L267.11,78.17 L267.66,78.31 L268.15,77.26 L268.61,76.74 L269.05,75.12 L269.49,73.88 L269.93,73.23 L270.40,73.10 L270.90,71.16 L271.40,70.16 L271.92,69.11 L272.43,67.89 L272.93,66.63 L273.41,66.24 L273.87,63.67 L274.30,62.16 L274.69,62.53 L275.05,61.22 L275.37,60.21 L275.69,58.06 L276.00,57.68 L276.31,56.31 L276.64,53.68 L277.00,53.02 L277.39,51.48 L277.82,49.36 L278.26,47.20 L278.71,44.82 L279.15,42.87 L279.57,40.62 L279.96,38.29 L280.30,37.15 L280.60,34.51 L280.88,33.08 L281.13,29.38 L281.36,28.46 L281.56,25.85 L281.73,24.21 L281.88,22.45 L282.00,20.50 L282.5,106.5 L149.3,106.5 Z" fill="#00ff00"/>
<path d="M149.50,106.50 L149.73,105.94 L150.05,104.84 L150.43,104.27 L150.84,103.22 L151.27,101.09 L151.69,99.75 L152.08,99.87 L152.40,97.59 L152.67,96.17 L152.92,95.93 L153.14,93.41 L153.35,92.37 L153.54,90.12 L153.73,88.82 L153.91,86.56 L154.10,86.13 L154.28,85.45 L154.46,83.89 L154.62,83.39 L154.78,82.50 L154.94,80.77 L155.09,81.32 L155.25,80.47 L155.40,79.46 L155.55,78.55 L155.70,79.58 L155.84,78.61 L155.97,78.78 L156.12,78.87 L156.27,78.46 L156.43,78.74 L156.60,77.82 L156.79,78.53 L156.98,78.00 L157.19,78.96 L157.40,79.05 L157.62,77.97 L157.84,78.34 L158.07,78.86 L158.30,80.59 L158.53,80.24 L158.76,81.22 L159.00,81.40 L159.24,82.54 L159.49,83.17 L159.75,83.96 L160.02,85.21 L160.30,86.04 L160.59,87.43 L160.89,87.95 L161.20,89.29 L161.51,90.09 L161.84,91.23 L162.18,91.56 L162.53,91.50 L162.90,93.41 L163.28,94.23 L163.66,94.72 L164.05,94.69 L164.45,95.43 L164.87,95.02 L165.32,96.50 L165.79,96.45 L166.30,96.33 L166.84,96.30 L167.42,97.94 L168.02,98.44 L168.64,97.14 L169.29,98.57 L169.95,98.10 L170.62,97.84 L171.30,98.25 L171.99,99.22 L172.71,99.55 L173.44,98.28 L174.18,99.38 L174.93,98.51 L175.69,99.72 L176.45,99.11 L177.20,100.05 L177.95,100.18 L178.69,99.29 L179.44,100.00 L180.19,98.69 L180.95,98.13 L181.71,98.86 L182.50,97.74 L183.30,97.89 L184.15,98.12 L185.05,98.33 L185.98,97.42 L186.91,97.09 L187.83,98.36 L188.70,97.30 L189.49,98.28 L190.20,98.07 L190.78,97.10 L191.25,97.15 L191.64,97.16 L191.99,97.29 L192.33,97.15 L192.71,97.04 L193.15,97.11 L193.70,97.65 L194.36,96.94 L195.09,96.87 L195.87,97.45 L196.69,96.73 L197.54,96.94 L198.38,98.19 L199.21,97.49 L200.00,97.58 L200.76,96.70 L201.50,97.40 L202.23,97.69 L202.96,96.73 L203.69,97.73 L204.44,97.73 L205.20,96.71 L206.00,97.62 L206.79,97.27 L207.54,97.54 L208.28,96.89 L209.06,97.38 L209.88,97.30 L210.80,95.94 L211.83,95.84 L213.00,96.70 L214.35,96.98 L215.85,95.54 L217.47,95.65 L219.18,95.61 L220.93,94.87 L222.69,94.66 L224.43,94.28 L226.10,94.08 L227.73,94.16 L229.35,93.35 L230.98,93.16 L232.60,93.51 L234.22,91.90 L235.85,92.47 L237.47,92.38 L239.10,91.28 L240.77,90.72 L242.49,91.28 L244.24,89.86 L245.97,89.31 L247.67,89.26 L249.30,89.24 L250.82,87.77 L252.20,87.70 L253.44,87.30 L254.55,87.75 L255.57,86.69 L256.51,87.01 L257.40,85.44 L258.27,85.30 L259.12,85.37 L260.00,85.25 L260.89,83.95 L261.78,82.97 L262.65,82.17 L263.49,82.21 L264.31,80.95 L265.09,81.29 L265.82,80.62 L266.50,78.76 L267.11,78.17 L267.66,78.31 L268.15,77.26 L268.61,76.74 L269.05,75.12 L269.49,73.88 L269.93,73.23 L270.40,73.10 L270.90,71.16 L271.40,70.16 L271.92,69.11 L272.43,67.89 L272.93,66.63 L273.41,66.24 L273.87,63.67 L274.30,62.16 L274.69,62.53 L275.05,61.22 L275.37,60.21 L275.69,58.06 L276.00,57.68 L276.31,56.31 L276.64,53.68 L277.00,53.02 L277.39,51.48 L277.82,49.36 L278.26,47.20 L278.71,44.82 L279.15,42.87 L279.57,40.62 L279.96,38.29 L280.30,37.15 L280.60,34.51 L280.88,33.08 L281.13,29.38 L281.36,28.46 L281.56,25.85 L281.73,24.21 L281.88,22.45 L282.00,20.50" fill="none" stroke="#ff0000" stroke-width="2.1" stroke-linejoin="round"/>
<line x1="147" y1="8.7" x2="283" y2="8.7" stroke="#b8b8b8" stroke-width="0.8"/>
<line x1="282.9" y1="8.5" x2="282.9" y2="106.5" stroke="#b8b8b8" stroke-width="0.8"/>
<rect x="145.85" y="8.5" width="1.15" height="98.6" fill="#000"/>
<rect x="145.85" y="106" width="137.45" height="1.1" fill="#000"/>
<g stroke="#333" stroke-width="0.7">
<line x1="158.27" y1="106.5" x2="158.27" y2="108"/>
<line x1="169.59" y1="106.5" x2="169.59" y2="109"/>
<line x1="180.91" y1="106.5" x2="180.91" y2="108"/>
<line x1="192.23" y1="106.5" x2="192.23" y2="109"/>
<line x1="203.55" y1="106.5" x2="203.55" y2="108"/>
<line x1="214.87" y1="106.5" x2="214.87" y2="109"/>
<line x1="226.19" y1="106.5" x2="226.19" y2="108"/>
<line x1="237.51" y1="106.5" x2="237.51" y2="109"/>
<line x1="248.83" y1="106.5" x2="248.83" y2="108"/>
<line x1="260.15" y1="106.5" x2="260.15" y2="109"/>
<line x1="271.47" y1="106.5" x2="271.47" y2="108"/>
<line x1="145.3" y1="96.70" x2="147" y2="96.70"/>
<line x1="143.7" y1="87.10" x2="147" y2="87.10"/>
<line x1="145.3" y1="77.50" x2="147" y2="77.50"/>
<line x1="143.7" y1="67.90" x2="147" y2="67.90"/>
<line x1="145.3" y1="58.30" x2="147" y2="58.30"/>
<line x1="143.7" y1="48.70" x2="147" y2="48.70"/>
<line x1="145.3" y1="39.10" x2="147" y2="39.10"/>
<line x1="143.7" y1="29.50" x2="147" y2="29.50"/>
<line x1="145.3" y1="19.90" x2="147" y2="19.90"/>
<line x1="143.7" y1="10.30" x2="147" y2="10.30"/>
</g>
<text x="169.59" y="115.6" text-anchor="middle" textLength="16.4" lengthAdjust="spacingAndGlyphs" class="il">0.02</text>
<text x="192.23" y="115.6" text-anchor="middle" textLength="16.4" lengthAdjust="spacingAndGlyphs" class="il">0.04</text>
<text x="214.87" y="115.6" text-anchor="middle" textLength="16.4" lengthAdjust="spacingAndGlyphs" class="il">0.06</text>
<text x="237.51" y="115.6" text-anchor="middle" textLength="16.4" lengthAdjust="spacingAndGlyphs" class="il">0.08</text>
<text x="260.15" y="115.6" text-anchor="middle" textLength="16.4" lengthAdjust="spacingAndGlyphs" class="il">0.10</text>
<text x="143.2" y="89.80" text-anchor="end" textLength="18.4" lengthAdjust="spacingAndGlyphs" class="il">1000</text>
<text x="143.2" y="70.60" text-anchor="end" textLength="18.4" lengthAdjust="spacingAndGlyphs" class="il">2000</text>
<text x="143.2" y="51.40" text-anchor="end" textLength="18.4" lengthAdjust="spacingAndGlyphs" class="il">3000</text>
<text x="143.2" y="32.20" text-anchor="end" textLength="18.4" lengthAdjust="spacingAndGlyphs" class="il">4000</text>
<!-- texts -->
<text x="179" y="241.2" textLength="36.7" lengthAdjust="spacingAndGlyphs" class="b" font-size="16.5">data</text>
<text transform="translate(69,176.2) rotate(-90)" textLength="69.5" lengthAdjust="spacingAndGlyphs" class="b" font-size="16.5">removed</text>
<!-- y label -->
<g transform="translate(18.3,213.3) rotate(-90)" class="b" font-size="16.5">
<text x="-0.30" y="0" textLength="51.60" lengthAdjust="spacingAndGlyphs">events</text>
<text x="58.20" y="0" textLength="7.50" lengthAdjust="spacingAndGlyphs" font-size="20.5">(</text>
<text x="65.40" y="0" textLength="8.40" lengthAdjust="spacingAndGlyphs">1</text>
<text x="74.40" y="0" textLength="9.20" lengthAdjust="spacingAndGlyphs">0</text>
<text x="84.20" textLength="6.50" lengthAdjust="spacingAndGlyphs" y="-7.3" font-size="11.5">4</text>
<line x1="93.1" y1="3.6" x2="102.1" y2="-13" stroke="#1a1a1a" stroke-width="1.25" style="stroke-width:1.25px"/>
<text x="100.80" y="0" textLength="9.60" lengthAdjust="spacingAndGlyphs">0</text>
<text x="110.70" y="0" textLength="4.50" lengthAdjust="spacingAndGlyphs">.</text>
<text x="116.90" y="0" textLength="9.60" lengthAdjust="spacingAndGlyphs">5</text>
<text x="131.10" y="0" textLength="19.00" lengthAdjust="spacingAndGlyphs">M</text>
<text x="151.30" y="0" textLength="9.30" lengthAdjust="spacingAndGlyphs">e</text>
<text x="161.10" y="0" textLength="12.70" lengthAdjust="spacingAndGlyphs">V</text>
<text x="174.30" y="0" textLength="8.20" lengthAdjust="spacingAndGlyphs" font-size="20.5">)</text>
</g>
<!-- x label -->
<g class="b" font-size="16.5">
<text x="153.4" y="332.6" font-size="17" font-style="italic" textLength="18.2" lengthAdjust="spacingAndGlyphs" style="stroke-width:0.3px">M</text>
<g fill="none" stroke="#1a1a1a" stroke-linecap="round">
<g transform="translate(172.4,330.2)"><path d="M0.4,2.3 C0.9,0.7 2.4,0.2 3.4,1.5 C4.2,2.7 4.4,4.8 4.1,6.8" stroke-width="1.25"/><path d="M7.2,0.4 C6.2,2.4 4.9,4.6 4.1,6.8" stroke-width="0.7"/></g>
<g transform="translate(180.3,330.2)"><path d="M0.4,2.3 C0.9,0.7 2.4,0.2 3.4,1.5 C4.2,2.7 4.4,4.8 4.1,6.8" stroke-width="1.25"/><path d="M7.2,0.4 C6.2,2.4 4.9,4.6 4.1,6.8" stroke-width="0.7"/></g>
</g>
<text x="189.5" y="332.7" font-size="20" textLength="6.3" lengthAdjust="spacingAndGlyphs" style="stroke-width:0.3px">(</text>
<text x="196.8" y="332.8" font-size="17" textLength="14.7" lengthAdjust="spacingAndGlyphs">G</text>
<text x="212.4" y="332.8" font-size="17" textLength="8.7" lengthAdjust="spacingAndGlyphs">e</text>
<text x="221.8" y="332.8" font-size="17" textLength="13.7" lengthAdjust="spacingAndGlyphs">V</text>
<text x="235.3" y="332.7" font-size="20" textLength="6.1" lengthAdjust="spacingAndGlyphs" style="stroke-width:0.3px">)</text>
</g>
<!-- inset y label -->
<text transform="translate(120.2,97.4) rotate(-90)" font-size="13" style="fill:#262626;stroke:#262626;stroke-width:0.3px" textLength="83.4" lengthAdjust="spacingAndGlyphs">events/1 MeV</text>
<!-- inset x label -->
<g font-size="11.4" style="fill:#222;stroke:#222;stroke-width:0.3px">
<text x="184.5" y="130.9" font-size="12.2" font-style="italic" textLength="12.6" lengthAdjust="spacingAndGlyphs" style="stroke-width:0.2px">M</text>
<text x="209.5" y="130.8" textLength="35" lengthAdjust="spacingAndGlyphs">(GeV)</text>
</g>
<g fill="none" stroke="#222" stroke-linecap="round">
<g transform="translate(197.8,129.5) scale(0.71)"><path d="M0.4,2.3 C0.9,0.7 2.4,0.2 3.4,1.5 C4.2,2.7 4.4,4.8 4.1,6.8" stroke-width="1.7"/><path d="M7.2,0.4 C6.2,2.4 4.9,4.6 4.1,6.8" stroke-width="1.05"/></g>
<g transform="translate(203.2,129.5) scale(0.71)"><path d="M0.4,2.3 C0.9,0.7 2.4,0.2 3.4,1.5 C4.2,2.7 4.4,4.8 4.1,6.8" stroke-width="1.7"/><path d="M7.2,0.4 C6.2,2.4 4.9,4.6 4.1,6.8" stroke-width="1.05"/></g>
</g>
</svg>
</body></html>
